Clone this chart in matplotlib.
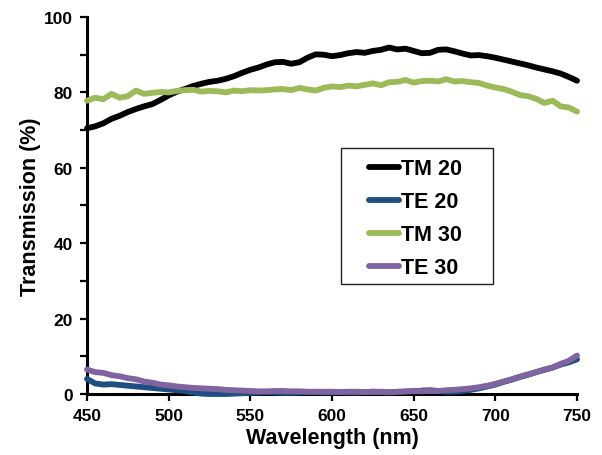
import matplotlib
matplotlib.use("Agg")
import matplotlib.pyplot as plt
from matplotlib.patches import Rectangle
from matplotlib.ticker import MultipleLocator

plt.rcParams['font.family'] = ['Liberation Sans', 'DejaVu Sans']
plt.rcParams['font.weight'] = 'bold'

wavelength = list(range(450, 751, 5))

tm20 = [70.5, 71.0, 71.8, 73.0, 73.8, 74.8, 75.6, 76.3, 76.9, 78.0,
        79.2, 80.2, 80.9, 81.7, 82.3, 82.8, 83.1, 83.6, 84.3, 85.2,
        86.0, 86.6, 87.4, 88.0, 88.1, 87.6, 88.0, 89.2, 90.1, 90.0,
        89.6, 89.9, 90.4, 90.7, 90.5, 91.0, 91.3, 91.9, 91.4, 91.6,
        91.0, 90.4, 90.5, 91.3, 91.4, 90.9, 90.3, 89.8, 89.9, 89.6,
        89.2, 88.7, 88.2, 87.7, 87.2, 86.6, 86.1, 85.6, 85.0, 84.1,
        83.1]

te20 = [4.0, 2.8, 2.5, 2.6, 2.4, 2.2, 2.0, 1.8, 1.6, 1.4,
        1.2, 1.0, 0.8, 0.4, 0.1, 0.0, 0.0, 0.0, 0.1, 0.2,
        0.3, 0.4, 0.5, 0.4, 0.3, 0.3, 0.4, 0.5, 0.5, 0.4,
        0.4, 0.5, 0.4, 0.4, 0.5, 0.6, 0.5, 0.4, 0.5, 0.6,
        0.7, 0.9, 1.0, 0.8, 0.6, 0.6, 0.8, 1.1, 1.5, 2.0,
        2.5, 3.2, 3.8, 4.5, 5.1, 5.8, 6.4, 7.0, 7.8, 8.4,
        9.2]

tm30 = [77.8, 78.6, 78.2, 79.6, 78.6, 79.0, 80.5, 79.6, 79.9, 80.1,
        80.0, 80.4, 80.6, 80.7, 80.2, 80.4, 80.3, 80.0, 80.5, 80.3,
        80.6, 80.5, 80.6, 80.8, 80.9, 80.6, 81.2, 80.8, 80.5, 81.2,
        81.6, 81.4, 81.8, 81.6, 82.0, 82.4, 81.9, 82.7, 82.8, 83.3,
        82.6, 83.0, 83.1, 82.9, 83.5, 82.9, 83.0, 82.7, 82.5, 81.8,
        81.3, 80.9, 80.2, 79.3, 79.0, 78.3, 77.2, 77.8, 76.3, 76.0,
        74.9]

te30 = [6.5, 5.8, 5.6, 5.0, 4.7, 4.2, 3.9, 3.3, 3.0, 2.5,
        2.3, 2.0, 1.8, 1.6, 1.5, 1.4, 1.3, 1.1, 1.0, 0.9,
        0.8, 0.7, 0.7, 0.8, 0.8, 0.7, 0.7, 0.6, 0.6, 0.6,
        0.6, 0.5, 0.6, 0.6, 0.5, 0.6, 0.6, 0.5, 0.6, 0.7,
        0.8, 0.7, 0.8, 0.8, 1.0, 1.1, 1.3, 1.5, 1.8, 2.2,
        2.7, 3.3, 3.9, 4.6, 5.2, 5.8, 6.5, 7.0, 8.0, 8.8,
        10.2]

series = [
    ("TM 20", tm20, "#000000"),
    ("TE 20", te20, "#1F4E80"),
    ("TM 30", tm30, "#9BBB59"),
    ("TE 30", te30, "#8064A2"),
]

fig = plt.figure(figsize=(6.02, 4.56), dpi=100)
ax = fig.add_axes([0.1445, 0.1338, 0.814, 0.8267])

for label, vals, color in series:
    ax.plot(wavelength, vals, color=color, lw=4.2, label=label,
            solid_capstyle='round', solid_joinstyle='round', clip_on=False, zorder=3)

ax.set_xlim(450, 750)
ax.set_ylim(0, 100)
ax.xaxis.set_major_locator(MultipleLocator(50))
ax.yaxis.set_major_locator(MultipleLocator(20))
ax.yaxis.set_minor_locator(MultipleLocator(10))

for side in ("top", "right"):
    ax.spines[side].set_visible(False)
for side in ("left", "bottom"):
    ax.spines[side].set_linewidth(2.2)
    ax.spines[side].set_zorder(2)

ax.tick_params(axis='both', which='both', direction='out', length=5, width=1.6,
               labelsize=12.5, pad=5)

ax.set_xlabel("Wavelength (nm)", fontsize=15.5, fontweight='bold', labelpad=3)
ax.set_ylabel("Transmission (%)", fontsize=15.5, fontweight='bold', labelpad=2)

# legend box drawn as a plain rectangle, entries placed inside it
ax.add_patch(Rectangle((0.5184, 0.2918), 0.3102, 0.3607, transform=ax.transAxes,
                       facecolor='white', edgecolor='#222222', lw=1.0,
                       zorder=4, clip_on=False))
leg = ax.legend(loc='upper left', bbox_to_anchor=(0.5755, 0.625), fontsize=15.5,
                frameon=False, handlelength=1.4, handletextpad=0.1,
                labelspacing=0.555, borderpad=0, borderaxespad=0)
leg.set_zorder(5)
for t in leg.get_texts():
    t.set_fontweight('bold')
for h in leg.get_lines():
    h.set_linewidth(4.2)

fig.savefig("out.png", dpi=100)
